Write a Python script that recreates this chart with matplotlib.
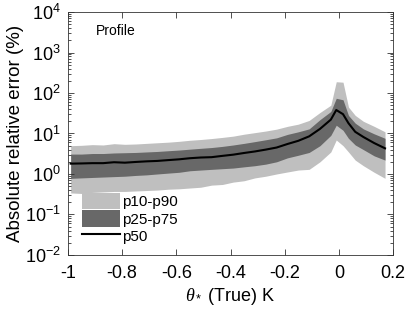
import numpy as np
import matplotlib
matplotlib.use('Agg')
import matplotlib.pyplot as plt
from matplotlib.ticker import LogLocator, FixedLocator

plt.rcParams['font.family'] = ['Liberation Sans', 'DejaVu Sans']
plt.rcParams['mathtext.fontset'] = 'custom'
plt.rcParams['mathtext.rm'] = 'Liberation Sans'
plt.rcParams['mathtext.it'] = 'Liberation Serif:italic'

# theta_* (True) bins [K]
theta = [-0.99, -0.95, -0.91, -0.87, -0.83, -0.79, -0.75, -0.71, -0.67, -0.63,
         -0.59, -0.55, -0.51, -0.47, -0.43, -0.39, -0.35, -0.31, -0.27, -0.23,
         -0.19, -0.15, -0.11, -0.07, -0.03, -0.01, 0.015, 0.035, 0.06, 0.09,
         0.13, 0.17]

# percentiles of absolute relative error (%)
p10 = [0.34, 0.33, 0.35, 0.36, 0.37, 0.37, 0.38, 0.39, 0.40, 0.42,
       0.43, 0.45, 0.47, 0.53, 0.55, 0.63, 0.68, 0.80, 0.88, 1.00,
       1.12, 1.25, 1.30, 2.00, 3.50, 6.90, 5.00, 3.50, 2.20, 1.60,
       1.10, 0.78]
p25 = [0.78, 0.80, 0.82, 0.84, 0.86, 0.88, 0.92, 0.95, 1.00, 1.05,
       1.10, 1.20, 1.25, 1.30, 1.35, 1.40, 1.50, 1.60, 1.75, 2.00,
       2.50, 2.90, 3.40, 5.00, 9.00, 16.0, 12.0, 7.60, 5.20, 4.00,
       2.80, 2.20]
p50 = [1.80, 1.82, 1.85, 1.85, 1.95, 1.90, 1.98, 2.05, 2.10, 2.20,
       2.30, 2.45, 2.55, 2.60, 2.80, 3.00, 3.30, 3.60, 4.00, 4.50,
       5.50, 6.60, 8.50, 13.0, 22.0, 38.0, 30.0, 18.0, 11.0, 8.20,
       5.80, 4.30]
p75 = [3.10, 3.10, 3.20, 3.20, 3.30, 3.35, 3.40, 3.50, 3.60, 3.75,
       3.90, 4.10, 4.30, 4.50, 4.80, 5.20, 5.70, 6.30, 7.00, 7.80,
       9.50, 11.0, 13.0, 22.0, 35.0, 74.0, 68.0, 28.0, 18.0, 13.0,
       9.80, 7.60]
p90 = [5.00, 5.10, 5.30, 5.20, 5.60, 5.40, 5.50, 5.70, 5.90, 6.10,
       6.40, 6.80, 7.10, 7.50, 8.00, 8.60, 9.60, 10.5, 11.5, 12.8,
       15.0, 17.0, 21.0, 33.0, 50.0, 190., 185., 45.0, 28.0, 20.0,
       15.0, 11.0]

fig = plt.figure(figsize=(4.07, 3.09), dpi=100)
ax = fig.add_axes([0.167, 0.175, 0.799, 0.786])

ax.fill_between(theta, p10, p90, color='#bfbfbf', lw=0, label='p10-p90')
ax.fill_between(theta, p25, p75, color='#686868', lw=0, label='p25-p75')
ax.plot(theta, p50, color='k', lw=1.5, label='p50')

ax.set_yscale('log')
ax.set_xlim(-1, 0.2)
ax.set_ylim(1e-2, 1e4)
ax.xaxis.set_major_locator(FixedLocator([-1, -0.8, -0.6, -0.4, -0.2, 0, 0.2]))
ax.set_xticklabels(['-1', '-0.8', '-0.6', '-0.4', '-0.2', '0', '0.2'])
ax.yaxis.set_major_locator(LogLocator(base=10, numticks=10))
ax.yaxis.set_minor_locator(LogLocator(base=10, subs=np.arange(2, 10), numticks=10))

ax.tick_params(which='both', direction='in', top=True, right=True,
               labelsize=13, width=0.6, color='#333333')
ax.tick_params(which='major', length=4)
ax.tick_params(which='minor', length=2)
ax.tick_params(axis='x', pad=7)
ax.tick_params(axis='y', pad=5)
for s in ax.spines.values():
    s.set_linewidth(0.6)
    s.set_color('#333333')

ax.set_xlabel(r'$\theta_*$ (True) K', fontsize=13, labelpad=3)
ax.set_ylabel('Absolute relative error (%)', fontsize=13.5, labelpad=1)

ax.text(0.085, 0.905, 'Profile', transform=ax.transAxes, fontsize=10)

leg = ax.legend(loc='lower left', bbox_to_anchor=(0.01, 0.0), frameon=False,
                fontsize=11, handlelength=2.5, handleheight=1.3,
                labelspacing=0.05, handletextpad=0.15, borderaxespad=0.3)

fig.savefig('out.png', dpi=100)
